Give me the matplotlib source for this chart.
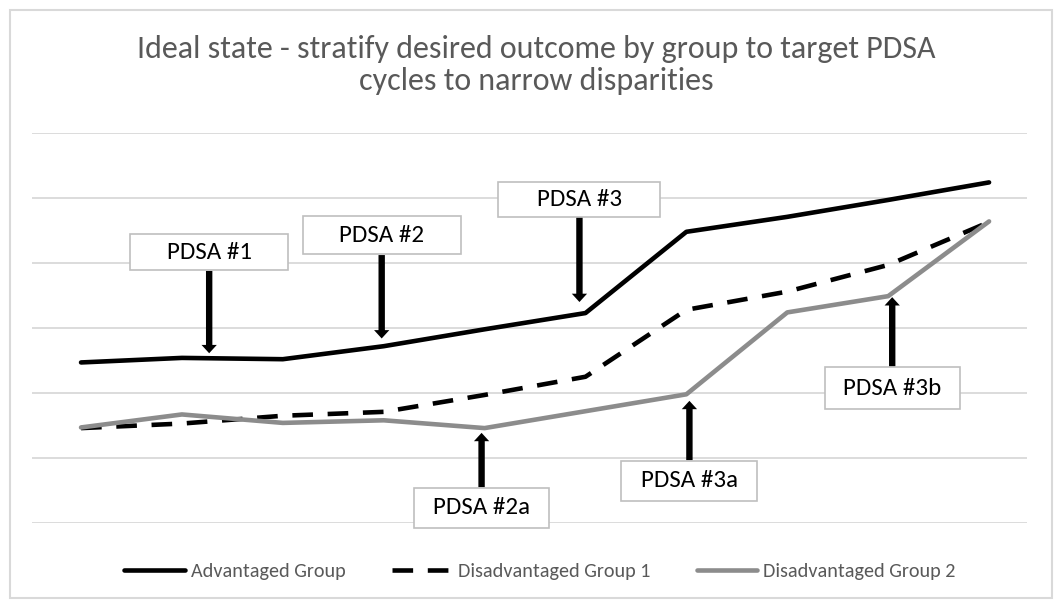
import numpy as np
import matplotlib
matplotlib.use("Agg")
from matplotlib import pyplot as plt
from matplotlib import font_manager
from matplotlib.path import Path
from matplotlib.patches import Rectangle

# data (grid units, 7 gridlines = 0..6)
periods = np.arange(10)
advantaged = [2.47, 2.54, 2.52, 2.72, 2.98, 3.23, 4.48, 4.71, 4.97, 5.24]
disadvantaged_1 = [1.46, 1.53, 1.65, 1.71, 1.97, 2.25, 3.28, 3.56, 3.97, 4.63]
disadvantaged_2 = [1.47, 1.67, 1.54, 1.58, 1.46, 1.72, 1.98, 3.24, 3.49, 4.64]
series_names = ["Advantaged Group", "Disadvantaged Group 1", "Disadvantaged Group 2"]

# PDSA call-outs: label, series it points at, position along the x axis
pdsa_labels = ["PDSA #1", "PDSA #2", "PDSA #3", "PDSA #2a", "PDSA #3a", "PDSA #3b"]
pdsa_series = [0, 0, 0, 2, 2, 2]
pdsa_x = [1.27, 2.98, 4.94, 3.97, 6.03, 8.04]


def pick_font(names):
    for n in names:
        try:
            font_manager.findfont(font_manager.FontProperties(family=n),
                                  fallback_to_default=False)
            return n
        except ValueError:
            pass
    return "DejaVu Sans"


FONT = pick_font(["Carlito", "Liberation Sans Narrow", "Open Sans", "Lato"])
plt.rcParams["font.family"] = [FONT, "DejaVu Sans"]


def fixed_box(w, h):
    # rectangle of fixed pixel size centred on the text
    def style(x0, y0, width, height, mutation_size):
        cx = x0 + width / 2
        cy = y0 + height / 2
        return Path([(cx - w / 2, cy - h / 2), (cx + w / 2, cy - h / 2),
                     (cx + w / 2, cy + h / 2), (cx - w / 2, cy + h / 2),
                     (cx - w / 2, cy - h / 2)], closed=True)
    return style


W, H = 1054, 600
fig = plt.figure(figsize=(W / 100, H / 100), dpi=100)
ax = fig.add_axes([32 / W, 77 / H, 995 / W, 390 / H])
ax.set_xlim(-0.486, 9.376)
ax.set_ylim(0, 6)
ax.set_yticks(range(7))
ax.set_xticks([])
ax.tick_params(left=False, labelleft=False)
ax.grid(axis="y", color="#d9d9d9", lw=1.3)
ax.set_axisbelow(True)
for s in ax.spines.values():
    s.set_visible(False)

all_series = [advantaged, disadvantaged_1, disadvantaged_2]
l1, = ax.plot(periods, advantaged, color="black", lw=3.3, clip_on=False,
              solid_capstyle="round", solid_joinstyle="round")
l2, = ax.plot(periods, disadvantaged_1, color="black", lw=3.3, clip_on=False,
              dashes=(4.5, 3.2), dash_capstyle="butt")
l3, = ax.plot(periods, disadvantaged_2, color="#8c8c8c", lw=3.3, clip_on=False,
              solid_capstyle="round", solid_joinstyle="round")

# layout of call-outs (pixels): box offset from the line, arrow gap, box size
box_dy = [106, 111, 115, -80, -89, -95]
arrow_gap = [5, 8, 12, 5, 9, 4]
box_size = [(158, 36), (158, 38), (162, 35), (135, 40), (136, 40), (135, 42)]

for lab, si, xp, dy, gap, (bw, bh) in zip(pdsa_labels, pdsa_series, pdsa_x,
                                          box_dy, arrow_gap, box_size):
    yv = np.interp(xp, periods, all_series[si])
    ax.annotate(lab, xy=(xp, yv), xytext=(0, dy * 0.72),
                textcoords="offset points", ha="center", va="center",
                fontsize=18, color="black", zorder=5,
                bbox=dict(boxstyle=fixed_box(bw, bh), fc="white",
                          ec="#bfbfbf", lw=1.2),
                arrowprops=dict(arrowstyle="simple,head_length=0.3,head_width=0.55,tail_width=0.23",
                                mutation_scale=20, fc="black", ec="none",
                                shrinkA=0, shrinkB=gap * 0.72))

fig.text(536 / W, 1 - 65 / H,
         "Ideal state - stratify desired outcome by group to target PDSA\ncycles to narrow disparities",
         ha="center", va="center", fontsize=23, color="#595959", linespacing=1.2)

fig.legend([l1, l2, l3], series_names, loc="center",
           bbox_to_anchor=(540 / W, 29 / H), ncol=3, frameon=False,
           fontsize=14.5, handlelength=3.0, handletextpad=0.3, columnspacing=2.3,
           labelcolor="#595959")

fig.add_artist(Rectangle((10 / W, 2 / H), 1042 / W, 588 / H, transform=fig.transFigure,
                         fill=False, ec="#d9d9d9", lw=1.5))

fig.savefig("out.png", dpi=100)
